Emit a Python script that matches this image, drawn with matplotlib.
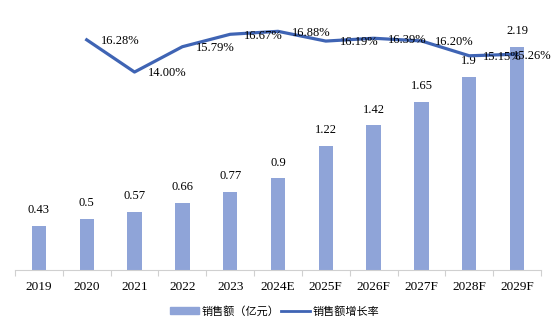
import numpy as np
import matplotlib.pyplot as plt
from matplotlib.ticker import FixedLocator
from matplotlib.patches import Patch
from matplotlib.lines import Line2D

# data
years = ['2019', '2020', '2021', '2022', '2023', '2024E',
         '2025F', '2026F', '2027F', '2028F', '2029F']
sales = [0.43, 0.5, 0.57, 0.66, 0.77, 0.9, 1.22, 1.42, 1.65, 1.9, 2.19]
growth = [None, 16.28, 14.00, 15.79, 16.67, 16.88, 16.19, 16.39, 16.20, 15.15, 15.26]

bar_color = '#8FA4D8'
line_color = '#3F64B4'

plt.rcParams['font.family'] = ['Liberation Serif', 'Noto Sans CJK SC']

fig = plt.figure(figsize=(5.54, 3.24), dpi=100)
ax = fig.add_axes([0.027, 0.1667, 0.9495, 0.7855])
x = np.arange(len(years))

ax.bar(x, sales, width=0.3, color=bar_color, zorder=2)
for xi, v in zip(x, sales):
    ax.annotate('{:g}'.format(v), (xi, v), xytext=(0, 7), textcoords='offset points',
                ha='center', va='bottom', fontsize=9)

ax.set_xlim(-0.5, len(years) - 0.5)
ax.set_ylim(0, 2.5)
ax.set_xticks(x)
ax.set_xticklabels(years, fontsize=9.5)
ax.xaxis.set_minor_locator(FixedLocator(np.arange(-0.5, len(years), 1)))
ax.tick_params(axis='x', which='major', length=0, pad=8)
ax.tick_params(axis='x', which='minor', length=4, color='#D0D0D0', width=0.8)
ax.set_yticks([])
for s in ['top', 'left', 'right']:
    ax.spines[s].set_visible(False)
ax.spines['bottom'].set_color('#D0D0D0')
ax.spines['bottom'].set_linewidth(0.8)

ax2 = ax.twinx()
gx = [xi for xi, g in zip(x, growth) if g is not None]
gy = [g for g in growth if g is not None]
ax2.plot(gx, gy, color=line_color, linewidth=2.3, zorder=3)
ax2.set_ylim(0, 18)
ax2.set_yticks([])
for s in ['top', 'left', 'right', 'bottom']:
    ax2.spines[s].set_visible(False)
for i, (xi, g) in enumerate(zip(gx, gy)):
    dx = 10 if i < len(gx) - 1 else -3
    ax2.annotate('{:.2f}%'.format(g), (xi, g), xytext=(dx, -1), textcoords='offset points',
                 ha='left', va='center', fontsize=9)

# legend
handles = [Patch(color=bar_color, label='销售额（亿元）'),
           Line2D([0], [0], color=line_color, linewidth=2, label='销售额增长率')]
fig.legend(handles=handles, loc='center', bbox_to_anchor=(0.496, 0.04), ncol=2,
           frameon=False, handlelength=2.6, handleheight=0.6,
           columnspacing=0.2, handletextpad=0.2,
           prop={'family': ['Noto Sans CJK SC', 'DejaVu Sans'], 'size': 8})

fig.savefig('out.png', dpi=100)
